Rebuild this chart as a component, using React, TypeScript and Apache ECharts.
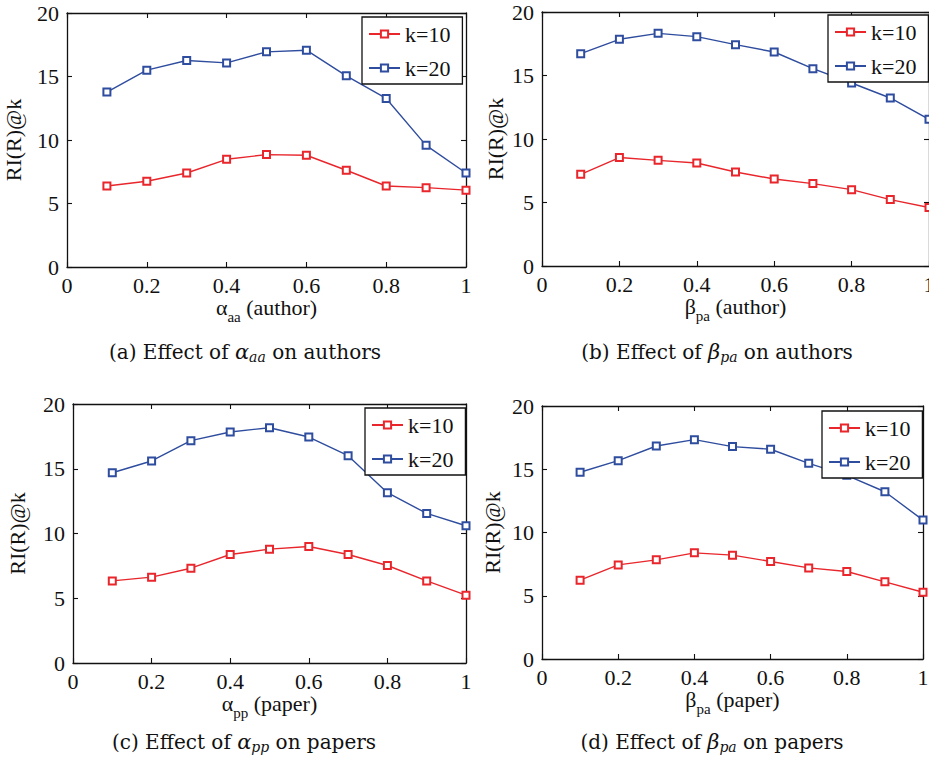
import React, { useEffect, useRef } from "react";
import * as echarts from "echarts";

const xValues = [0.1, 0.2, 0.3, 0.4, 0.5, 0.6, 0.7, 0.8, 0.9, 1.0];
const seriesNames = ["k=10", "k=20"];

const aK10 = [6.38, 6.75, 7.4, 8.48, 8.85, 8.8, 7.62, 6.38, 6.25, 6.05];
const aK20 = [13.77, 15.5, 16.26, 16.07, 16.94, 17.07, 15.05, 13.27, 9.58, 7.4];
const bK10 = [7.22, 8.54, 8.32, 8.11, 7.4, 6.85, 6.49, 6.01, 5.23, 4.6];
const bK20 = [16.72, 17.85, 18.32, 18.06, 17.43, 16.85, 15.54, 14.41, 13.23, 11.55];
const cK10 = [6.34, 6.63, 7.32, 8.38, 8.79, 9.0, 8.38, 7.53, 6.34, 5.24];
const cK20 = [14.69, 15.6, 17.17, 17.84, 18.17, 17.45, 16.01, 13.15, 11.55, 10.6];
const dK10 = [6.23, 7.44, 7.84, 8.39, 8.21, 7.71, 7.2, 6.92, 6.1, 5.28];
const dK20 = [14.76, 15.68, 16.84, 17.34, 16.79, 16.58, 15.47, 14.52, 13.22, 10.98];

const yAxisTitle = "RI(R)@k";
const xNameGreek = ["α", "β", "α", "β"];
const xNameSub = ["aa", "pa", "pp", "pa"];
const xNameRest = ["(author)", "(author)", "(paper)", "(paper)"];
const captionLetters = ["(a)", "(b)", "(c)", "(d)"];
const captionTargets = ["authors", "authors", "papers", "papers"];

const panelData = [
  [aK10, aK20],
  [bK10, bK20],
  [cK10, cK20],
  [dK10, dK20],
];

const FONT = "Liberation Serif";
const CAP_FONT = "DejaVu Serif";
const INK = "#111";
const COLORS = ["#e8262c", "#2f4d9f"];

const grids = [
  { left: 67, top: 13, width: 399, height: 254 },
  { left: 542, top: 12, width: 387, height: 254 },
  { left: 73, top: 404, width: 393, height: 259 },
  { left: 542, top: 406, width: 381, height: 253 },
];
const yNameGaps = [43, 36, 45, 39];
const legendPos = [
  { left: 362, top: 17 },
  { left: 828, top: 15 },
  { left: 365, top: 408 },
  { left: 822, top: 411 },
];
const captionPos = [
  { x: 245, y: 352 },
  { x: 717, y: 352 },
  { x: 244, y: 742 },
  { x: 712, y: 742 },
];

export default function App() {
  const ref = useRef<HTMLDivElement>(null);
  useEffect(() => {
    if (!ref.current) return;
    const chart = echarts.init(ref.current, undefined, { renderer: "svg" });
    const xAxis: any[] = [];
    const yAxis: any[] = [];
    const series: any[] = [];
    const legend: any[] = [];
    const graphic: any[] = [];
    const axisLine = { show: true, onZero: false, lineStyle: { color: INK, width: 1.3 } };
    const tick = { show: true, inside: true, length: 5, lineStyle: { color: INK, width: 1.1 } };
    grids.forEach((g, i) => {
      xAxis.push({
        gridIndex: i,
        type: "value",
        position: "bottom",
        min: 0,
        max: 1,
        interval: 0.2,
        axisLine,
        axisTick: tick,
        splitLine: { show: false },
        axisLabel: { fontFamily: FONT, fontSize: 22, color: INK, margin: 7 },
        name: `{g|${xNameGreek[i]}}{s|${xNameSub[i]}} {n|${xNameRest[i]}}`,
        nameLocation: "middle",
        nameGap: 20,
        nameTextStyle: {
          fontFamily: FONT,
          fontSize: 22,
          color: INK,
          rich: {
            g: { fontFamily: FONT, fontSize: 22, color: INK },
            s: { fontFamily: FONT, fontSize: 15, color: INK, padding: [18, 0, 0, 0] },
            n: { fontFamily: FONT, fontSize: 22, color: INK },
          },
        },
      });
      xAxis.push({
        gridIndex: i,
        type: "value",
        position: "top",
        min: 0,
        max: 1,
        interval: 0.2,
        axisLine,
        axisTick: tick,
        splitLine: { show: false },
        axisLabel: { show: false },
      });
      yAxis.push({
        gridIndex: i,
        type: "value",
        position: "left",
        min: 0,
        max: 20,
        interval: 5,
        axisLine,
        axisTick: tick,
        splitLine: { show: false },
        axisLabel: { fontFamily: FONT, fontSize: 22, color: INK, margin: 8 },
        name: yAxisTitle,
        nameLocation: "middle",
        nameGap: yNameGaps[i],
        nameTextStyle: { fontFamily: FONT, fontSize: 22, color: INK },
      });
      yAxis.push({
        gridIndex: i,
        type: "value",
        position: "right",
        min: 0,
        max: 20,
        interval: 5,
        axisLine,
        axisTick: tick,
        splitLine: { show: false },
        axisLabel: { show: false },
      });
      panelData[i].forEach((vals, k) => {
        series.push({
          name: seriesNames[k],
          type: "line",
          xAxisIndex: 2 * i,
          yAxisIndex: 2 * i,
          data: xValues.map((x, j) => [x, vals[j]]),
          symbol: "emptyRect",
          symbolSize: 7,
          lineStyle: { color: COLORS[k], width: 1.4 },
          itemStyle: { color: COLORS[k], borderColor: COLORS[k], borderWidth: 1.4 },
          z: 3,
        });
      });
      legend.push({
        left: legendPos[i].left,
        top: legendPos[i].top,
        orient: "vertical",
        data: seriesNames,
        selectedMode: false,
        backgroundColor: "#fff",
        borderColor: INK,
        borderWidth: 1.3,
        borderRadius: 0,
        padding: [6, 12, 5, 6],
        itemWidth: 31,
        itemHeight: 9,
        itemGap: 12,
        textStyle: { fontFamily: FONT, fontSize: 22, color: INK, lineHeight: 22 },
        z: 10,
      });
      graphic.push({
        type: "text",
        x: captionPos[i].x,
        y: captionPos[i].y,
        style: {
          text: `${captionLetters[i]} Effect of {m|${xNameGreek[i]}}{ms|${xNameSub[i]}} on ${captionTargets[i]}`,
          fontFamily: CAP_FONT,
          fontSize: 20,
          fill: INK,
          align: "center",
          verticalAlign: "middle",
          rich: {
            m: { fontFamily: CAP_FONT, fontStyle: "italic", fontSize: 21, fill: INK },
            ms: {
              fontFamily: CAP_FONT,
              fontStyle: "italic",
              fontSize: 14,
              fill: INK,
              padding: [9, 0, 0, 0],
            },
          },
        },
      });
    });
    chart.setOption({
      animation: false,
      backgroundColor: "#fff",
      grid: grids.map((g) => ({ ...g, show: false, containLabel: false, outerBoundsMode: "none" })),
      xAxis,
      yAxis,
      series,
      legend,
      graphic,
    });
    return () => chart.dispose();
  }, []);
  return (
    <div
      ref={ref}
      style={{ position: "absolute", left: 0, top: 0, width: 929, height: 761 }}
    />
  );
}
